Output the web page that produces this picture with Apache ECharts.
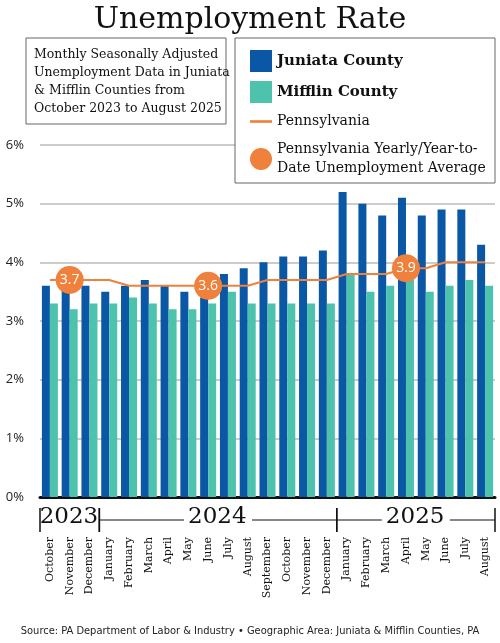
<!DOCTYPE html>
<html lang="en">
<head>
<meta charset="UTF-8">
<title>Unemployment Rate</title>
<script src="https://cdn.jsdelivr.net/npm/echarts@6/dist/echarts.min.js"></script>
<style>
    html, body { margin: 0; padding: 0; background: #fff; }
    #main { width: 500px; height: 643px; }
</style>
</head>
<body>
<div id="main"></div>
<script>
    var months = ['October','November','December','January','February','March','April','May','June','July','August',
        'September','October','November','December','January','February','March','April','May','June','July','August'];
    var juniata = [3.6,3.6,3.6,3.5,3.6,3.7,3.6,3.5,3.4,3.8,3.9,4.0,4.1,4.1,4.2,5.2,5.0,4.8,5.1,4.8,4.9,4.9,4.3];
    var mifflin = [3.3,3.2,3.3,3.3,3.4,3.3,3.2,3.2,3.3,3.5,3.3,3.3,3.3,3.3,3.3,3.8,3.5,3.6,3.7,3.5,3.6,3.7,3.6];
    var penn    = [3.7,3.7,3.7,3.7,3.6,3.6,3.6,3.6,3.6,3.6,3.6,3.7,3.7,3.7,3.7,3.8,3.8,3.8,3.9,3.9,4.0,4.0,4.0];
    // yearly averages: [month index, value]
    var paAvg = [[1, 3.7], [8, 3.6], [18, 3.9]];
    var years = [['2023', 0, 3], ['2024', 3, 15], ['2025', 15, 23]];

    var chart = echarts.init(document.getElementById('main'));
    var serif = '"DejaVu Serif", serif';
    var L = 40, R = 5, W = 500 - L - R, step = W / months.length;

    // year row: brackets and labels
    var g = [];
    years.forEach(function (y) {
        var x0 = L + y[1] * step, x1 = L + y[2] * step, mid = (x0 + x1) / 2;
        g.push({ type: 'text', left: mid - 30, top: 506, style: { text: y[0], width: 60, align: 'center',
            font: '23px ' + serif, fill: '#111' }, z: 10 });
        g.push({ type: 'line', shape: { x1: x0, y1: 508, x2: x0, y2: 532 }, style: { stroke: '#111', lineWidth: 1.5 } });
        g.push({ type: 'line', shape: { x1: x1, y1: 508, x2: x1, y2: 532 }, style: { stroke: '#111', lineWidth: 1.5 } });
        if (y[2] - y[1] > 3) {
            g.push({ type: 'line', shape: { x1: x0, y1: 520, x2: mid - 34, y2: 520 }, style: { stroke: '#111', lineWidth: 1 } });
            g.push({ type: 'line', shape: { x1: mid + 34, y1: 520, x2: x1, y2: 520 }, style: { stroke: '#111', lineWidth: 1 } });
        }
    });
    // description box
    g.push({ type: 'rect', shape: { x: 26, y: 38, width: 200, height: 86 }, style: { fill: '#fff', stroke: '#666', lineWidth: 1 } });
    g.push({ type: 'text', left: 34, top: 46, style: { text: 'Monthly Seasonally Adjusted\nUnemployment Data in Juniata\n& Mifflin Counties from\nOctober 2023 to August 2025',
        font: '12.5px ' + serif, lineHeight: 18, fill: '#111' } });
    // legend box
    g.push({ type: 'rect', shape: { x: 235, y: 38, width: 260, height: 145 }, style: { fill: '#fff', stroke: '#666', lineWidth: 1 }, z: 1 });

    var option = {
        animation: false,
        title: { text: 'Unemployment Rate', left: 'center', top: 0,
            textStyle: { fontFamily: serif, fontWeight: 'normal', fontSize: 30, color: '#111' } },
        legend: {
            orient: 'vertical', left: 245, top: 45, itemGap: 9, itemWidth: 22, itemHeight: 22, z: 5,
            textStyle: { fontFamily: serif, fontSize: 14, color: '#111', lineHeight: 19 },
            data: [
                { name: 'Juniata County', icon: 'rect', textStyle: { fontWeight: 'bold', fontSize: 15 } },
                { name: 'Mifflin County', icon: 'rect', textStyle: { fontWeight: 'bold', fontSize: 15 } },
                { name: 'Pennsylvania', icon: 'path://M0,44 L100,44 L100,56 L0,56 Z' },
                { name: 'Pennsylvania Yearly/Year-to-\nDate Unemployment Average', icon: 'circle', itemHeight: 30, itemWidth: 30 }
            ]
        },
        grid: { left: L, right: R, top: 145, bottom: 146 },
        xAxis: {
            type: 'category', data: months,
            axisLine: { lineStyle: { color: '#111', width: 3 } },
            axisTick: { show: false },
            axisLabel: { rotate: 90, interval: 0, margin: 40, fontFamily: serif, fontSize: 11, color: '#111' }
        },
        yAxis: {
            type: 'value', min: 0, max: 6, interval: 1,
            axisLabel: { formatter: '{value}%', fontSize: 13, color: '#222', margin: 16, fontFamily: 'Open Sans' },
            splitLine: { lineStyle: { color: '#bbb', width: 1.5 } }
        },
        series: [
            { name: 'Juniata County', type: 'bar', data: juniata, barWidth: 8, barGap: '0%',
              itemStyle: { color: '#0a58a5' } },
            { name: 'Mifflin County', type: 'bar', data: mifflin, barWidth: 8,
              itemStyle: { color: '#4dc2ad' } },
            { name: 'Pennsylvania', type: 'line', data: penn, symbol: 'none', z: 5,
              lineStyle: { color: '#f0813c', width: 2 }, itemStyle: { color: '#f0813c' } },
            { name: 'Pennsylvania Yearly/Year-to-\nDate Unemployment Average', type: 'scatter', data: paAvg,
              symbolSize: 28, z: 6, itemStyle: { color: '#f0813c', opacity: 1 },
              label: { show: true, position: 'inside', color: '#fff', fontSize: 14, fontFamily: 'Open Sans',
                       formatter: function (p) { return p.value[1].toFixed(1); } } }
        ],
        graphic: g
    };
    chart.setOption(option);
</script>
<div style="position:absolute;top:624px;left:0;width:500px;text-align:center;font:11px 'Liberation Sans Narrow','DejaVu Sans Condensed',sans-serif;color:#222;">Source: PA Department of Labor &amp; Industry • Geographic Area: Juniata &amp; Mifflin Counties, PA</div>
</body>
</html>
